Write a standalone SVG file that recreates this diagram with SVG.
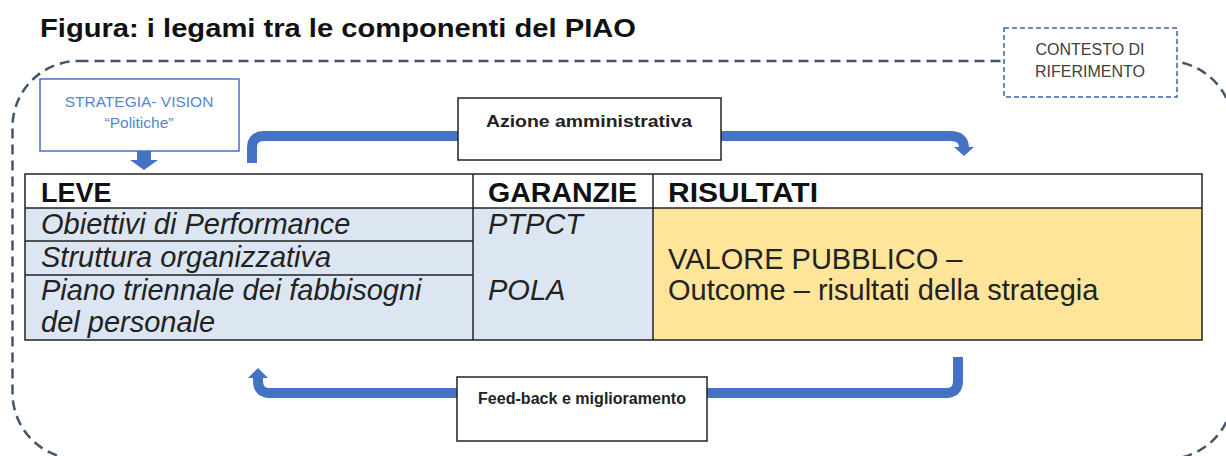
<svg xmlns="http://www.w3.org/2000/svg" width="1226" height="456" viewBox="0 0 1226 456">
<style>
.title{font-family:"Liberation Sans",Arial,sans-serif;font-weight:bold;font-size:25px;fill:#111}
.hdr{font-family:"Liberation Sans",Arial,sans-serif;font-weight:bold;font-size:27px;fill:#111}
.cell{font-family:"Liberation Sans",Arial,sans-serif;font-style:italic;font-size:29px;fill:#222}
.res{font-family:"Liberation Sans",Arial,sans-serif;font-size:29px;fill:#222}
.lbl{font-family:"Liberation Sans",Arial,sans-serif;font-weight:bold;font-size:16px;fill:#222}
.ctx{font-family:"Liberation Sans",Arial,sans-serif;font-size:16px;fill:#404040}
.strat{font-family:"Liberation Sans",Arial,sans-serif;font-size:15.5px;fill:#5585d4}
.box{fill:#fff;stroke:#222;stroke-width:1.5}
.grid{stroke:#222;stroke-width:1.5;fill:none}
.flow{fill:none;stroke:#4472c4;stroke-width:10}
.head{fill:#4472c4}
</style>
<rect width="1226" height="456" fill="#fff"/>
<text class="title" x="40" y="37" textLength="596" lengthAdjust="spacingAndGlyphs">Figura: i legami tra le componenti del PIAO</text>
<g id="contesto-border">
<rect x="12.5" y="61" width="1220.5" height="398" rx="66" ry="66" fill="none" stroke="#44546a" stroke-width="2.5" stroke-dasharray="10 6"/>
</g>
<g id="contesto">
<rect x="1004" y="28" width="173" height="69" fill="#fff" stroke="#3f63a8" stroke-width="1.5" stroke-dasharray="5 3"/>
<text class="ctx" x="1090" y="55" text-anchor="middle">CONTESTO DI</text>
<text class="ctx" x="1090" y="77" text-anchor="middle">RIFERIMENTO</text>
</g>
<g id="connectors">
<path class="flow" d="M252 163 V148 Q252 136 264 136 H950 Q964 136 964 148"/>
<polygon class="head" points="954,147 974,147 964,156"/>
<path class="flow" d="M958 357 V381 Q958 393 946 393 H270 Q258 393 258 381 V377"/>
<polygon class="head" points="248,378 268,378 258,368"/>
<polygon class="head" points="137,151 151,151 151,160 158,160 144,170 130,160 137,160"/>
</g>
<g id="strategia">
<rect x="40" y="79" width="199" height="72" fill="#fff" stroke="#4472c4" stroke-width="1.5"/>
<text class="strat" x="139" y="107" text-anchor="middle">STRATEGIA- VISION</text>
<text class="strat" x="139" y="128" text-anchor="middle">“Politiche”</text>
</g>
<g id="azione">
<rect class="box" x="458" y="98" width="263" height="62"/>
<text class="lbl" x="589" y="127" text-anchor="middle" textLength="206" lengthAdjust="spacingAndGlyphs">Azione amministrativa</text>
</g>
<g id="feedback">
<rect class="box" x="457" y="377" width="250" height="64"/>
<text class="lbl" x="582" y="404" text-anchor="middle" textLength="208" lengthAdjust="spacingAndGlyphs">Feed-back e miglioramento</text>
</g>
<g id="table">
<rect x="25" y="174" width="1177" height="166" fill="#fff"/>
<rect x="25" y="208" width="628" height="132" fill="#dce6f2"/>
<rect x="653" y="208" width="549" height="132" fill="#ffe599"/>
<rect class="grid" x="25" y="174" width="1177" height="166"/>
<line class="grid" x1="25" y1="208" x2="1202" y2="208"/>
<line class="grid" x1="473" y1="174" x2="473" y2="340"/>
<line class="grid" x1="653" y1="174" x2="653" y2="340"/>
<line class="grid" x1="25" y1="241" x2="473" y2="241"/>
<line class="grid" x1="25" y1="275" x2="473" y2="275"/>
<text class="hdr" x="41" y="202">LEVE</text>
<text class="hdr" x="488" y="202" textLength="149" lengthAdjust="spacingAndGlyphs">GARANZIE</text>
<text class="hdr" x="668" y="202" textLength="150" lengthAdjust="spacingAndGlyphs">RISULTATI</text>
<text class="cell" x="41" y="234">Obiettivi di Performance</text>
<text class="cell" x="41" y="267">Struttura organizzativa</text>
<text class="cell" x="41" y="300">Piano triennale dei fabbisogni</text>
<text class="cell" x="41" y="332">del personale</text>
<text class="cell" x="488" y="234">PTPCT</text>
<text class="cell" x="488" y="300">POLA</text>
<text class="res" x="668" y="269">VALORE PUBBLICO –</text>
<text class="res" x="668" y="300">Outcome – risultati della strategia</text>
</g>
</svg>
